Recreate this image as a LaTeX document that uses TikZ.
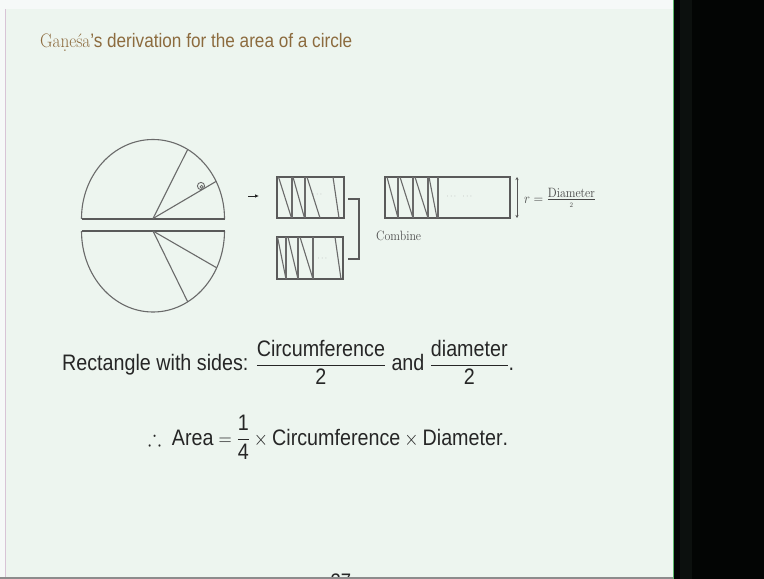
\documentclass[tikz,border=0pt]{standalone}
\usepackage{fontspec}
\setsansfont{Liberation Sans}
\usepackage{amsmath,amssymb}
\usepackage{graphicx}
\usetikzlibrary{arrows.meta}
\definecolor{slidebg}{HTML}{EDF5EF}
\definecolor{outerbg}{HTML}{F6F9F8}
\definecolor{titlec}{HTML}{8C6B3E}
\definecolor{ink}{HTML}{262626}
\definecolor{diag}{HTML}{6A6A6A}
\definecolor{pinkedge}{HTML}{D8C4D6}
\definecolor{greenedge}{HTML}{5CB86B}
\definecolor{blackzone}{HTML}{030504}
\definecolor{blackband}{HTML}{0C100E}
\newcommand{\hsq}[1]{\scalebox{0.88}[1]{#1}}
\newcommand{\lmrm}{\fontfamily{lmr}\selectfont}
\newcommand{\ndot}{\ooalign{n\cr\hidewidth\raisebox{-0.55ex}{.}\hidewidth\cr}}
\begin{document}
\begin{tikzpicture}[x=1pt,y=-1pt,
  thinline/.style={draw=diag, line width=1.1pt},
  diam/.style={draw=diag!85!black, line width=2pt},
  rectbox/.style={draw=diag!85!black, line width=1.4pt, inner sep=0pt, fill=none},
  dotsnode/.style={text=gray!75, inner sep=0pt, font=\fontsize{8}{8}\selectfont},
  txt/.style={text=ink, inner sep=0pt, anchor=base west}]
\useasboundingbox (0,0) rectangle (764,579);
% backgrounds
\fill[outerbg] (0,0) rectangle (764,579);
\fill[slidebg] (6,9) rectangle (673,577);
\draw[pinkedge, line width=1.2pt] (5.6,9) -- (5.6,577);
\fill[blackzone] (673,0) rectangle (764,579);
\fill[blackband] (680,0) rectangle (692,579);
\draw[greenedge, line width=1pt] (673.5,0) -- (673.5,579);
% page number
\node[txt, anchor=base] (pnum) at (341,588) {\hsq{\fontsize{21}{24}\selectfont\sffamily 37}};
\fill[gray!90] (0,577) rectangle (673,579);
% title
\node[txt, text=titlec] (title) at (40,47)
  {\hsq{\fontsize{19.5}{23}\selectfont{\lmrm Ga\ndot e\'sa}\sffamily's derivation for the area of a circle}};
% circle halves
\begin{scope}
  \clip (70,130) rectangle (240,218.5);
  \draw[thinline] (153,218.5) ellipse [x radius=71.5, y radius=79];
\end{scope}
\begin{scope}
  \clip (70,231) rectangle (240,320);
  \draw[thinline] (153,231) ellipse [x radius=71.5, y radius=81];
\end{scope}
\draw[diam] (81.5,218.5) -- (224.5,218.5);
\draw[diam] (81.5,231) -- (224.5,231);
\draw[thinline] (153,218.5) -- (187.7,149.4);
\draw[thinline] (153,218.5) -- (216.1,181.4);
\draw[thinline] (153,231) -- (216.7,267.8);
\draw[thinline] (153,231) -- (187.7,301.8);
\draw[thinline, line width=0.9pt] (201,186) circle (3.6);
\draw[thinline, line width=0.8pt] (201.6,186.8) circle (1.5);
% arrow
\coordinate (a1) at (248,196);
\coordinate (a2) at (259,196);
\draw[ink, line width=0.9pt, -{Latex[length=4pt,width=3.6pt]}] (a1) -- (a2);
% top small rectangle
\node[rectbox, minimum width=67pt, minimum height=41pt] (r1) at (310.5,197.5) {};
\draw[thinline] (292,177) -- (292,218) (305,177) -- (305,218);
\draw[thinline] (278.5,177) -- (291.5,218) (293,177) -- (304.5,218)
                (307,177) -- (320,218) (333,177) -- (339,218);
\node[dotsnode] (d1) at (318,195) {$\cdots$};
% bottom small rectangle
\node[rectbox, minimum width=66pt, minimum height=42pt] (r2) at (310,258) {};
\draw[thinline] (286,237) -- (286,279) (298,237) -- (298,279) (313,237) -- (313,279);
\draw[thinline] (277.5,237) -- (286,279) (288,237) -- (298,279)
                (300,237) -- (313,279) (335,237) -- (341,279);
\node[dotsnode] (d2) at (323,259) {$\cdots$};
% bracket
\coordinate (k1) at (348,199);
\coordinate (k2) at (359,199);
\coordinate (k3) at (359,259);
\coordinate (k4) at (348,259);
\draw[diag!85!black, line width=1.5pt] (k1) -- (k2) -- (k3) -- (k4);
\node[txt, text=ink!80] (comb) at (376,240) {\hsq{\fontsize{13.5}{15}\selectfont\lmrm Combine}};
% big rectangle
\node[rectbox, minimum width=125pt, minimum height=41pt] (r3) at (447.5,197.5) {};
\draw[thinline] (398,177) -- (398,218) (413,177) -- (413,218) (428,177) -- (428,218) (438,177) -- (438,218);
\draw[thinline] (387,177) -- (398,218) (400,177) -- (413,218)
                (415,177) -- (428,218) (429,177) -- (437,218);
\node[dotsnode] (d3) at (452,197) {$\cdots$};
\node[dotsnode] (d4) at (468,197) {$\cdots$};
% height arrow
\coordinate (h1) at (517,177);
\coordinate (h2) at (517,218);
\draw[diag!80!black, line width=1pt, {Stealth[length=3pt,width=3pt]}-{Stealth[length=3pt,width=3pt]}] (h1) -- (h2);
\node[txt, text=ink!85] (rlab) at (524,203)
  {\hsq{\fontsize{14}{16}\selectfont $r=\genfrac{}{}{0.5pt}{}{\text{\fontsize{13.5}{13.5}\selectfont\lmrm Diameter}}{\text{\fontsize{7}{7}\selectfont\lmrm 2}}$}};
% text lines
\node[txt] (line1) at (62,370.7)
  {\hsq{\fontsize{22.4}{26}\selectfont\sffamily Rectangle with sides: $\dfrac{\text{Circumference}}{\text{2}}$ and $\dfrac{\text{diameter}}{\text{2}}$.}};
\node[txt] (line2) at (148,445)
  {\hsq{\fontsize{22.4}{26}\selectfont\sffamily $\therefore\ \text{Area} = \dfrac{\text{1}}{\text{4}} \times \text{Circumference} \times \text{Diameter}$.}};
\end{tikzpicture}
\end{document}
